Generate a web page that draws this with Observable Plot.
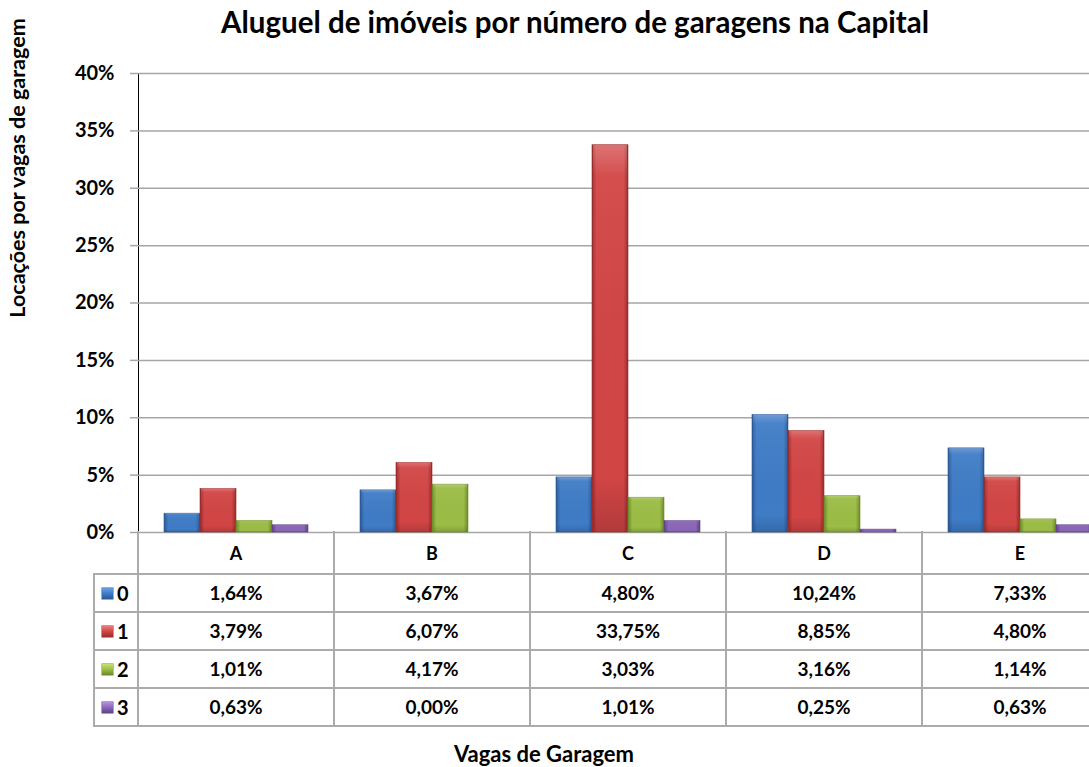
<!DOCTYPE html>
<html>
<head>
<meta charset="utf-8">
<script src="https://cdn.jsdelivr.net/npm/d3@7"></script>
<script src="https://cdn.jsdelivr.net/npm/@observablehq/plot@0.6"></script>
<style>
  html, body { margin: 0; padding: 0; background: #fff; }
  body { width: 1089px; height: 767px; position: relative; overflow: hidden; font-family: Lato, "Open Sans", sans-serif; color: #000; }
  .abs { position: absolute; white-space: nowrap; font-weight: bold; }
  .hline { position: absolute; height: 2px; background: #ababab; }
  .vline { position: absolute; width: 2px; background: #ababab; }
  #chart { position: absolute; left: 0; top: 0; }
</style>
</head>
<body>
<div id="chart"></div>
<script>
// ---- data ----
const categories = ["A", "B", "C", "D", "E"];
const seriesNames = ["0", "1", "2", "3"];
const serie0 = [1.64, 3.67, 4.80, 10.24, 7.33];
const serie1 = [3.79, 6.07, 33.75, 8.85, 4.80];
const serie2 = [1.01, 4.17, 3.03, 3.16, 1.14];
const serie3 = [0.63, 0.00, 1.01, 0.25, 0.63];
const yTicks = [0, 5, 10, 15, 20, 25, 30, 35, 40];
const title = "Aluguel de imóveis por número de garagens na Capital";
const yTitle = "Locações por vagas de garagem";
const xTitle = "Vagas de Garagem";

const allSeries = [serie0, serie1, serie2, serie3];
const rows = [];
seriesNames.forEach((s, si) => categories.forEach((c, ci) => rows.push({cat: c, series: s, value: allSeries[si][ci]})));

// colours: [mid, dark edge, light]
const palette = [
  ["#3f7cc6", "#2a5896", "#6aa0e0"],
  ["#d24545", "#982a2a", "#ef7a7a"],
  ["#9bbd45", "#6c8a28", "#c4e070"],
  ["#8a66b8", "#5d4385", "#b393e0"]
];

// ---- layout ----
const W = 1089, H = 545;
const plotTop = 73, plotBottom = 532;
const left = 138, step = 196;

const chart = Plot.plot({
  width: W,
  height: H,
  marginTop: plotTop,
  marginBottom: H - plotBottom,
  marginLeft: left,
  marginRight: 0,
  style: {background: "transparent", color: "#000", fontFamily: "Lato, sans-serif"},
  fx: {domain: categories, range: [left, left + step * categories.length], padding: 0, axis: null, label: null},
  x: {domain: seriesNames, paddingInner: 0, paddingOuter: 0.72, axis: null},
  y: {domain: [0, 40], ticks: yTicks, tickFormat: d => d + "%", tickSize: 8, tickPadding: 16, line: true, label: null},
  color: {type: "ordinal", domain: seriesNames, range: seriesNames.map((s, i) => `url(#barGrad${i})`)},
  marks: [
    Plot.ruleY(yTicks, {stroke: "#a6a6a6", strokeWidth: 1.5}),
    Plot.barY(rows, {fx: "cat", x: "series", y: "value", fill: "series", stroke: (d) => palette[+d.series][1], strokeWidth: 0.6}),
    Plot.barY(rows, {fx: "cat", x: "series", y: "value", fill: "url(#topShade)", insetLeft: 1, insetRight: 1})
  ]
});

// gradient defs for bevelled bars
const svg = d3.select(chart.tagName.toLowerCase() === "svg" ? chart : chart.querySelector("svg"));
const defs = svg.insert("defs", ":first-child");
palette.forEach((p, i) => {
  const g = defs.append("linearGradient").attr("id", `barGrad${i}`).attr("x1", 0).attr("x2", 1).attr("y1", 0).attr("y2", 0);
  [[0, p[1]], [0.12, p[0]], [0.5, p[0]], [0.88, p[0]], [1, p[1]]].forEach(([o, c]) => g.append("stop").attr("offset", o).attr("stop-color", c));
});
// subtle vertical shading: lighter top, darker bottom
const ts = defs.append("linearGradient").attr("id", "topShade").attr("x1", 0).attr("x2", 0).attr("y1", 0).attr("y2", 1);
[[0, "#fff", 0.25], [0.08, "#fff", 0.05], [0.85, "#000", 0], [1, "#000", 0.15]].forEach(([o, c, a]) => ts.append("stop").attr("offset", o).attr("stop-color", c).attr("stop-opacity", a));

// y axis styling: grey ticks/line, bold labels
svg.selectAll("[aria-label^='y-axis'] line, [aria-label^='y-axis'] path").attr("stroke", "#a6a6a6").attr("stroke-width", 1.5).attr("stroke-opacity", 1);
svg.selectAll("[aria-label^='y-axis'] text").attr("font-weight", "bold").attr("font-size", 20).attr("fill", "#000").attr("font-family", "Lato, sans-serif");
document.getElementById("chart").appendChild(chart);

// ---- text & table (HTML) ----
const body = document.body;
function addText(txt, opts) {
  const d = document.createElement("div");
  d.className = "abs";
  d.textContent = txt;
  Object.assign(d.style, opts);
  body.appendChild(d);
  return d;
}
function line(cls, x, y, len) {
  const d = document.createElement("div");
  d.className = cls;
  d.style.left = (x - 1) + "px";
  d.style.top = (y - 1) + "px";
  if (cls === "hline") d.style.width = len + "px"; else d.style.height = len + "px";
  body.appendChild(d);
}

// title
addText(title, {left: "575px", top: "4px", transform: "translateX(-50%)", fontSize: "29.5px", lineHeight: "36px"});
// y title
addText(yTitle, {left: "17px", top: "168px", transform: "translate(-50%,-50%) rotate(-90deg)", fontSize: "21.5px", lineHeight: "24px"});
// x title
addText(xTitle, {left: "544px", top: "754px", transform: "translate(-50%,-50%)", fontSize: "22px", lineHeight: "26px"});

// table grid
const rowTops = [574, 612, 650, 688, 726];
const tableRight = left + step * categories.length;
rowTops.forEach(y => line("hline", 94, y, tableRight - 94));
line("vline", 94, 574, 726 - 574 + 2);
for (let i = 0; i <= categories.length; i++) line("vline", left + step * i, 532, 726 - 532 + 2);

// header
categories.forEach((c, i) => addText(c, {left: (left + step * i + step / 2) + "px", top: "553px", transform: "translate(-50%,-50%)", fontSize: "18px", lineHeight: "22px"}));
// rows
const fmt = v => v.toFixed(2).replace(".", ",") + "%";
seriesNames.forEach((s, si) => {
  const cy = (rowTops[si] + rowTops[si + 1]) / 2;
  const sw = document.createElement("div");
  Object.assign(sw.style, {position: "absolute", left: "102px", top: (cy - 5.5) + "px", width: "11px", height: "11px",
    background: `linear-gradient(to bottom, ${palette[si][2]}, ${palette[si][0]} 50%, ${palette[si][1]})`, boxShadow: "0 0 0 0.5px " + palette[si][1]});
  body.appendChild(sw);
  addText(s, {left: "117px", top: cy + "px", transform: "translateY(-50%)", fontSize: "20px", lineHeight: "24px"});
  categories.forEach((c, ci) => addText(fmt(allSeries[si][ci]), {left: (left + step * ci + step / 2) + "px", top: cy + "px", transform: "translate(-50%,-50%)", fontSize: "19px", lineHeight: "22px"}));
});
</script>
</body>
</html>
